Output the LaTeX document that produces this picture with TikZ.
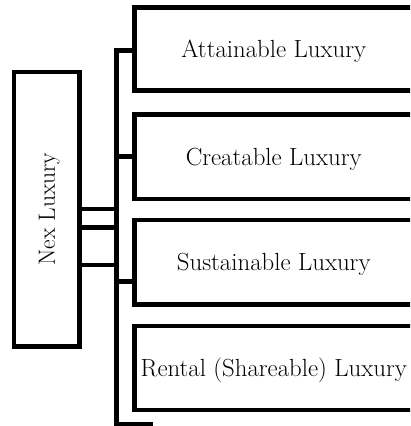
\documentclass[tikz,border=0pt]{standalone}
\usepackage{fontspec}
\begin{document}
\begin{tikzpicture}[x=1pt,y=1pt,
  wire/.style={line width=4.5pt,line join=miter,line cap=butt},
  catbox/.style={draw,line width=4.5pt,minimum width=278.5pt,minimum height=84pt,inner sep=0pt,
    text height=17pt,text depth=0pt,font=\fontsize{24.8}{29}\selectfont},
  rootbox/.style={draw,line width=4.5pt,rotate=90,minimum width=274.5pt,minimum height=65.5pt,inner sep=0pt,
    text height=16pt,text depth=0pt,font=\fontsize{23.5}{28}\selectfont}]
\useasboundingbox (0,0) rectangle (410,426);
\fill[white] (0,0) rectangle (410,426);
\clip (0,0) rectangle (410,426);
% nodes
\node[rootbox] (nex) at (46.75,216.75) {Nex Luxury};
\node[catbox,minimum height=83pt] (att) at (273.75,377) {Attainable Luxury};
\node[catbox,minimum height=84.5pt] (cre) at (273.75,269.25) {Creatable Luxury};
\node[catbox,minimum height=84.5pt] (sus) at (273.75,163.75) {Sustainable Luxury};
\node[catbox] (ren) at (273.75,58) {Rental (Shareable) Luxury};
% bus coordinates
\coordinate (bustop) at (116.5,375.5);
\coordinate (busbot) at (116.5,2);
\coordinate (busend) at (153,2);
\coordinate (scre) at (116.5,269.5);
\coordinate (ssus) at (116.5,144.5);
\coordinate (c1) at (116.5,217);
\coordinate (c2) at (116.5,198.5);
\coordinate (c3) at (116.5,161);
% bus and stubs
\draw[wire] (bustop -| att.west) -- (bustop) -- (busbot) -- (busend);
\draw[wire] (scre) -- (scre -| cre.west);
\draw[wire] (ssus) -- (ssus -| sus.west);
% links from root box to bus
\draw[wire] (c1 -| nex.south) -- (c1);
\draw[wire] (c2 -| nex.south) -- (c2);
\draw[wire] (c3 -| nex.south) -- (c3);
\end{tikzpicture}
\end{document}
